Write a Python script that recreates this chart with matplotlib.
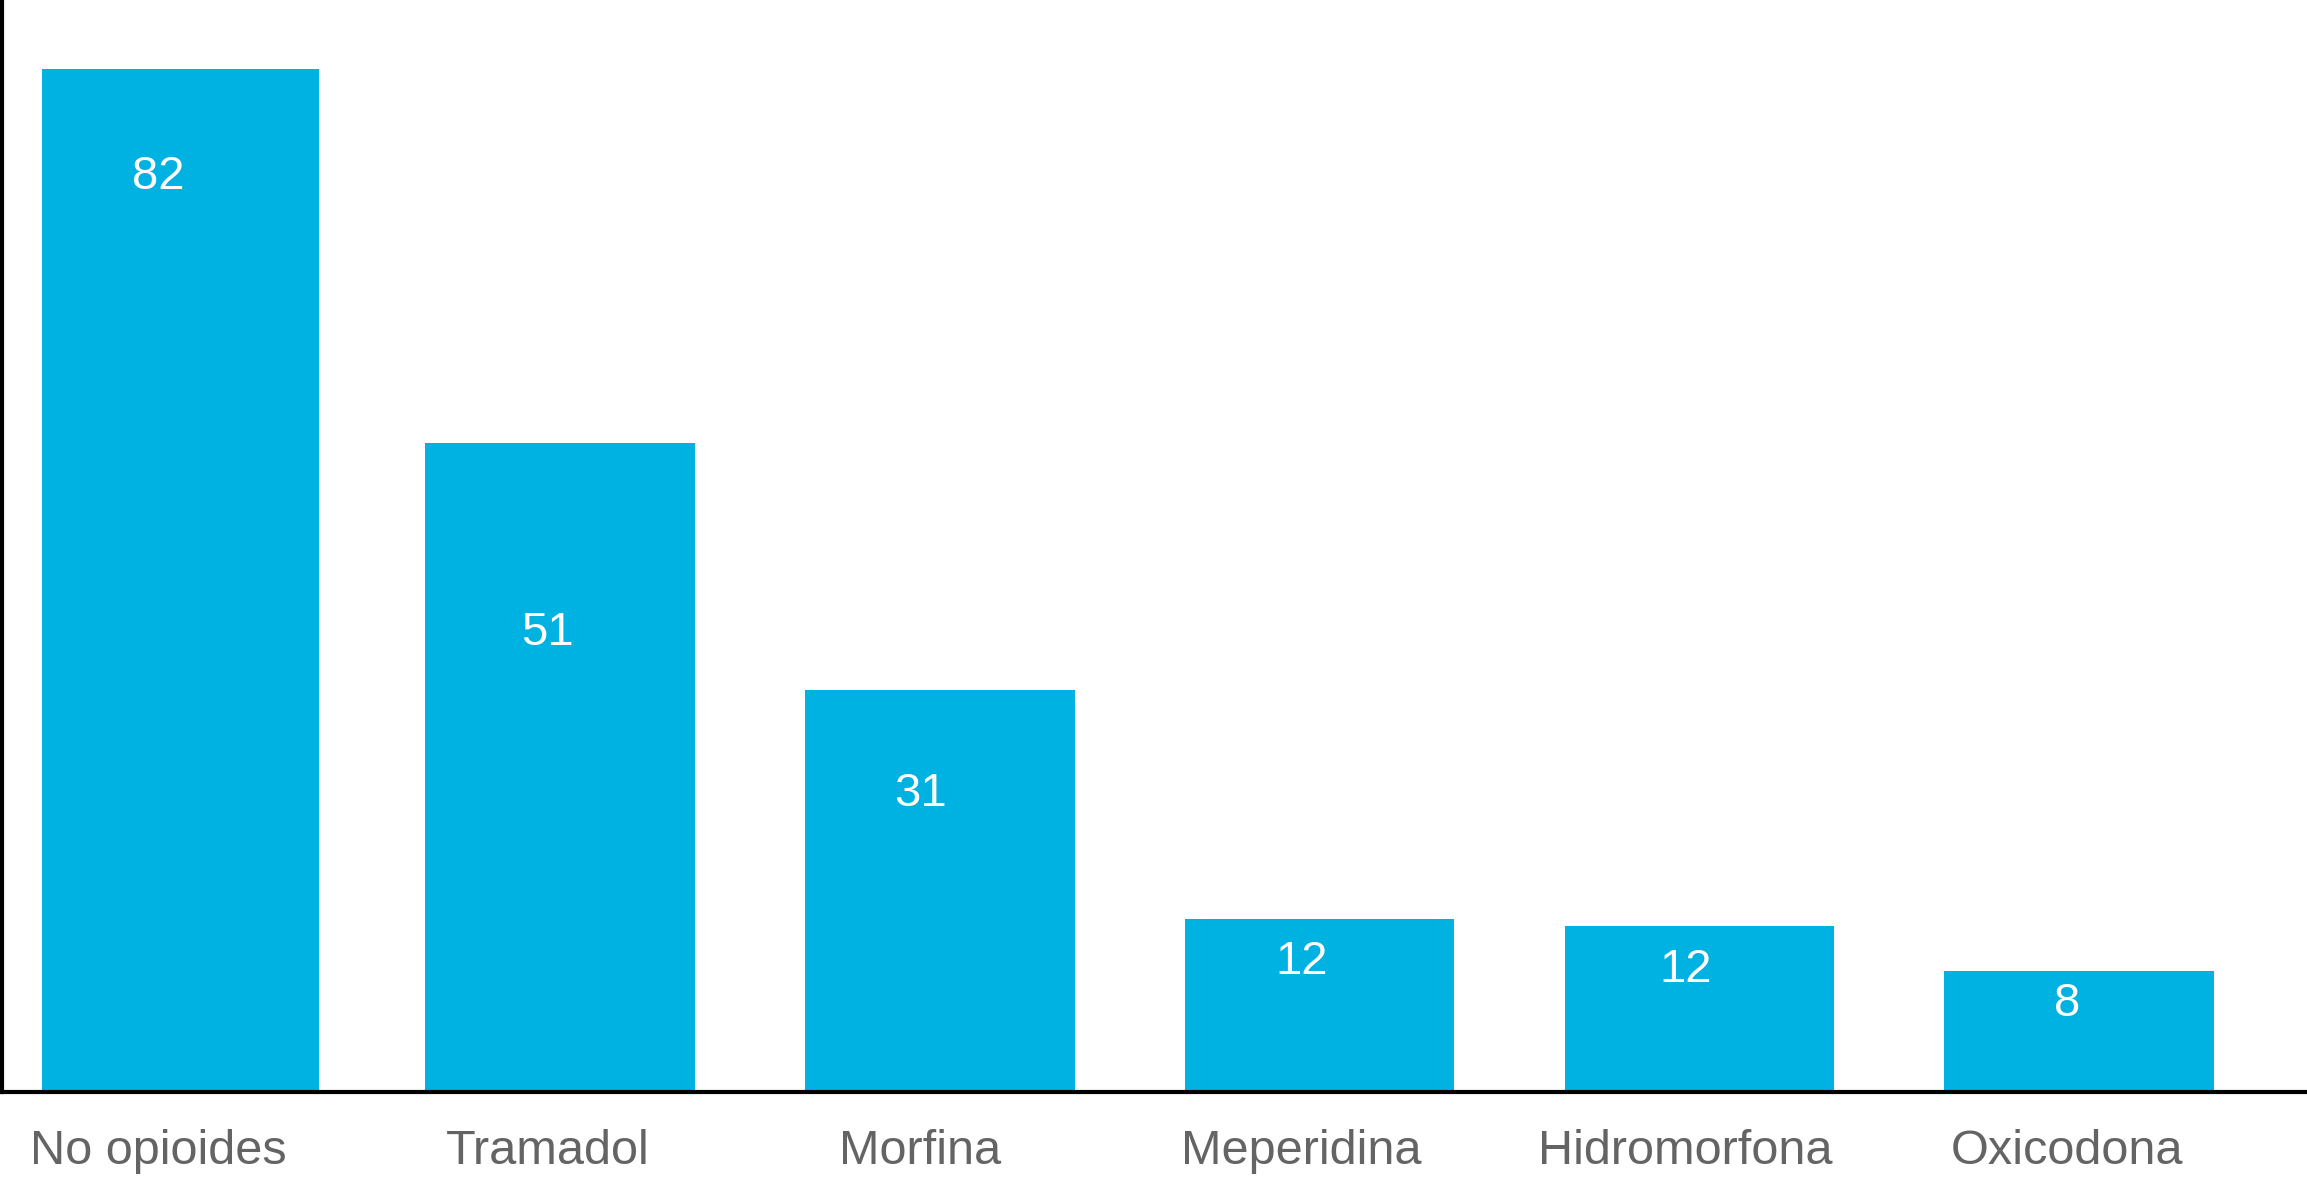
import matplotlib
matplotlib.use("Agg")
import matplotlib.pyplot as plt

# data
categories = ["No opioides", "Tramadol", "Morfina", "Meperidina", "Hidromorfona", "Oxicodona"]
labels = ["82", "51", "31", "12", "12", "8"]
heights = [82, 52.0, 32.2, 13.9, 13.3, 9.7]   # drawn bar heights (not quite proportional in the source)

# layout bits: label offset below bar top, and sideways shift of texts (points)
label_offsets = [78, 137, 75, 31, 32, 24]
text_shift = [-16, -9, -14, -13, -10, -9]
widths = [0.73, 0.71, 0.71, 0.71, 0.71, 0.71]

plt.rcParams['font.family'] = ['Liberation Sans', 'DejaVu Sans']

fig = plt.figure(figsize=(23.07, 11.79), dpi=100)
ax = fig.add_axes([0.0008, 0.0738, 0.9992, 0.9262])

x = range(len(categories))
ax.bar(x, heights, width=widths, color="#00B2E1")

for xi, h, lab, off, dx in zip(x, heights, labels, label_offsets, text_shift):
    ax.annotate(lab, (xi, h), xytext=(dx, -off), textcoords="offset points",
                ha="center", va="center", color="white", fontsize=34)

# category names under the axis
for xi, name, dx in zip(x, categories, text_shift):
    ax.annotate(name, (xi, 0), xytext=(dx, -27), textcoords="offset points",
                ha="center", va="top", color="#646464", fontsize=35,
                annotation_clip=False)

ax.set_xlim(-0.47, 5.6)
ax.set_ylim(0, 87.5)
ax.set_xticks([])
ax.set_yticks([])

for s in ["top", "right"]:
    ax.spines[s].set_visible(False)
ax.spines["left"].set_linewidth(3)
ax.spines["bottom"].set_linewidth(3)

fig.savefig("out.png", dpi=100)
